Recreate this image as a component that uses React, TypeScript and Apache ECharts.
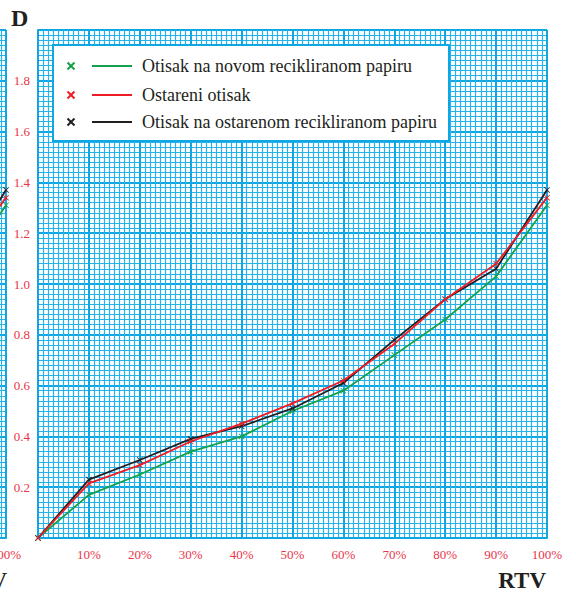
import React, { useEffect, useRef } from "react";
import * as echarts from "echarts";

const seriesNames = [
  "Otisak na novom recikliranom papiru",
  "Ostareni otisak",
  "Otisak na ostarenom recikliranom papiru",
];
const seriesColors = ["#13a14a", "#ee1c25", "#231f20"];
const rtv = [0, 10, 20, 30, 40, 50, 60, 70, 80, 90, 100];
const greenValues = [0, 0.17, 0.25, 0.34, 0.40, 0.50, 0.58, 0.72, 0.86, 1.03, 1.31];
const redValues = [0, 0.215, 0.287, 0.38, 0.45, 0.53, 0.62, 0.764, 0.94, 1.08, 1.34];
const blackValues = [0, 0.23, 0.307, 0.39, 0.44, 0.51, 0.61, 0.78, 0.94, 1.06, 1.37];
const allValues = [greenValues, redValues, blackValues];

const GRID = "#27b2ea";
const GRID_MAJOR = "#0fa7e3";
const LABEL_RED = "#e8354a";
const SERIF = "Liberation Serif";
const CROSS = "path://M0,1L1,0L5,4L9,0L10,1L6,5L10,9L9,10L5,6L1,10L0,9L4,5Z";
const OX = 503; // the canvas extends this far left of the page so the previous chart's edge shows

function makeXAxis(gridIndex: number, hideZero: boolean) {
  return {
    type: "value",
    gridIndex,
    min: 0,
    max: 100,
    interval: 10,
    axisLine: { show: true, lineStyle: { color: GRID_MAJOR, width: 2 } },
    axisTick: { show: false },
    axisLabel: {
      color: LABEL_RED,
      fontFamily: SERIF,
      fontSize: 13,
      margin: 10,
      formatter: (v: number) => (hideZero && v === 0 ? "" : v + "%"),
    },
    splitLine: { show: true, lineStyle: { color: GRID_MAJOR, width: 2 } },
    minorTick: { show: false, splitNumber: 10 },
    minorSplitLine: { show: true, lineStyle: { color: GRID, width: 1.2 } },
  };
}

function makeYAxis(gridIndex: number) {
  return {
    type: "value",
    gridIndex,
    min: 0,
    max: 2,
    interval: 0.2,
    axisLine: { show: true, lineStyle: { color: GRID_MAJOR, width: 2 } },
    axisTick: { show: false },
    axisLabel: {
      color: LABEL_RED,
      fontFamily: SERIF,
      fontSize: 13,
      margin: 8,
      formatter: (v: number) => (v === 0 || v >= 1.99 ? "" : v.toFixed(1)),
    },
    splitLine: { show: true, lineStyle: { color: GRID_MAJOR, width: 2 } },
    minorTick: { show: false, splitNumber: 10 },
    minorSplitLine: { show: true, lineStyle: { color: GRID, width: 1.2 } },
  };
}

export default function App() {
  const ref = useRef<HTMLDivElement>(null);
  useEffect(() => {
    if (!ref.current) return;
    const chart = echarts.init(ref.current, null, { renderer: "svg" });

    const series: any[] = [];
    [0, 1].forEach((g) => {
      allValues.forEach((vals, i) => {
        series.push({
          type: "line",
          name: seriesNames[i],
          xAxisIndex: g,
          yAxisIndex: g,
          data: rtv.map((x, k) => [x, vals[k]]),
          symbol: CROSS,
          symbolSize: 6,
          showSymbol: true,
          itemStyle: { color: seriesColors[i] },
          lineStyle: { color: seriesColors[i], width: 1.8 },
          z: 5 + (i === 1 ? 2 : i === 2 ? 1 : 0),
        });
      });
    });

    const legendRows = [66, 95, 122];
    const legendEls: any[] = [
      {
        type: "rect",
        shape: { x: OX + 53, y: 45, width: 396, height: 96 },
        style: { fill: "#ffffff", stroke: GRID_MAJOR, lineWidth: 2 },
        z: 10,
      },
    ];
    seriesNames.forEach((name, i) => {
      const y = legendRows[i];
      const c = seriesColors[i];
      legendEls.push(
        { type: "line", shape: { x1: OX + 67.5, y1: y - 3.5, x2: OX + 74.5, y2: y + 3.5 }, style: { stroke: c, lineWidth: 2 }, z: 11 },
        { type: "line", shape: { x1: OX + 74.5, y1: y - 3.5, x2: OX + 67.5, y2: y + 3.5 }, style: { stroke: c, lineWidth: 2 }, z: 11 },
        { type: "line", shape: { x1: OX + 92, y1: y, x2: OX + 132, y2: y }, style: { stroke: c, lineWidth: 2 }, z: 11 },
        {
          type: "text",
          x: OX + 142,
          y: y,
          style: {
            text: name,
            fill: "#231f20",
            fontFamily: SERIF,
            fontSize: 18,
            verticalAlign: "middle",
          },
          z: 11,
        }
      );
    });

    const nameText = (x: number) => ({
      type: "text",
      x,
      y: 580,
      style: {
        text: "RTV",
        fill: "#231f20",
        fontFamily: SERIF,
        fontSize: 23,
        fontWeight: "bold",
        align: "right",
        verticalAlign: "middle",
      },
      z: 11,
    });

    chart.setOption({
      animation: false,
      backgroundColor: "#ffffff",
      textStyle: { fontFamily: SERIF },
      grid: [
        { left: OX + 38, top: 30, width: 509, height: 508, containLabel: false },
        { left: 0, top: 30, width: 509, height: 508, containLabel: false },
      ],
      xAxis: [makeXAxis(0, true), makeXAxis(1, false)],
      yAxis: [makeYAxis(0), makeYAxis(1)],
      series,
      graphic: [
        ...legendEls,
        {
          type: "text",
          x: OX + 11,
          y: 6,
          style: { text: "D", fill: "#231f20", fontFamily: SERIF, fontSize: 24, fontWeight: "bold" },
          z: 11,
        },
        nameText(OX + 546),
        nameText(OX + 7),
      ],
    });
    return () => chart.dispose();
  }, []);
  return (
    <div
      ref={ref}
      style={{ position: "absolute", left: -OX, top: 0, width: 576 + OX, height: 594 }}
    />
  );
}
